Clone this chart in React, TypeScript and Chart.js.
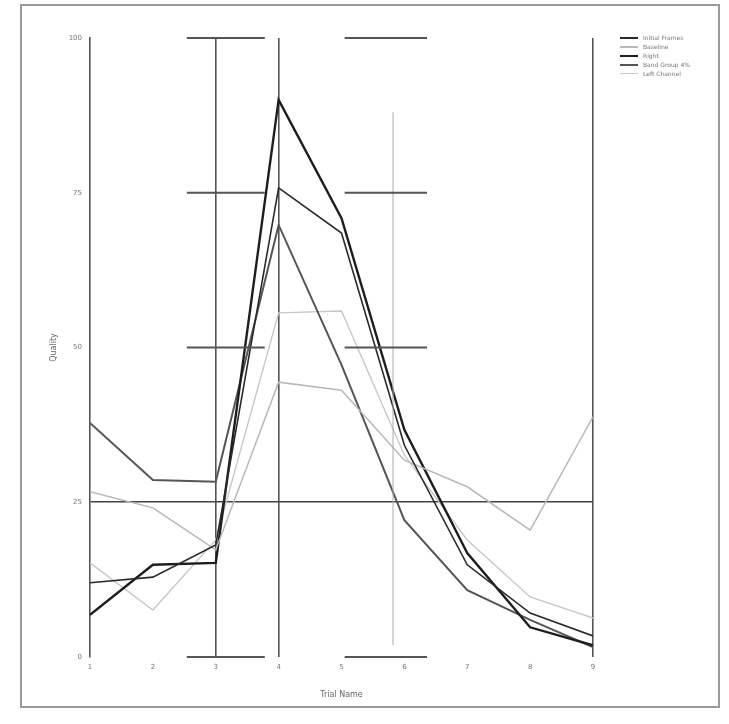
import React, { useEffect, useRef } from "react";
import { Chart, registerables } from "chart.js";
Chart.register(...registerables);

// ---- data ----
const categories = [1, 2, 3, 4, 5, 6, 7, 8, 9];
const xTickLabels = ["1", "2", "3", "4", "5", "6", "7", "8", "9"];
const yTickValues = [0, 25, 50, 75, 100];
const yTickLabels = ["0", "25", "50", "75", "100"];
const seriesNames = ["Initial Frames", "Baseline", "Right", "Band Group 4%", "Left Channel"];

const initialFrames = [12.0, 12.9, 18.1, 75.8, 68.5, 34.2, 14.9, 7.1, 3.4];
const baseline = [26.7, 24.1, 17.3, 44.4, 43.1, 31.8, 27.5, 20.5, 38.8];
const right = [6.8, 14.9, 15.2, 90.0, 70.9, 36.7, 16.8, 4.8, 1.9];
const bandGroup = [37.8, 28.6, 28.3, 69.8, 47.2, 22.1, 10.8, 6.0, 1.6];
const leftChannel = [15.2, 7.6, 18.9, 55.6, 55.9, 32.6, 18.9, 9.7, 6.3];

// reference marks in data units
const markLevels = [0, 50, 75, 100];
const markRanges = [
  [2.54, 3.78],
  [5.05, 6.36],
];
const refLineX = 5.82;
const refLineY = [1.9, 88];
const gridX = [3, 4, 9];
const gridY = [25];

const seriesValues = [initialFrames, baseline, right, bandGroup, leftChannel];
const seriesColors = ["#2a2a2a", "#b8b8b8", "#1e1e1e", "#555555", "#c8c8c8"];
const seriesWidths = [1.6, 1.5, 2.4, 2, 1.4];

export default function App() {
  const ref = useRef<HTMLCanvasElement>(null);
  useEffect(() => {
    document.body.style.margin = "0";
    const datasets: any[] = [];
    markLevels.forEach((lv) => {
      markRanges.forEach((rg) => {
        datasets.push({
          label: "",
          data: rg.map((x) => ({ x, y: lv })),
          borderColor: "#555",
          borderWidth: 2,
          pointRadius: 0,
          clip: false,
        });
      });
    });
    datasets.push({
      label: "",
      data: refLineY.map((y) => ({ x: refLineX, y })),
      borderColor: "#aaa",
      borderWidth: 1,
      pointRadius: 0,
    });
    seriesValues.forEach((vals, i) => {
      datasets.push({
        label: seriesNames[i],
        data: vals.map((v, j) => ({ x: categories[j], y: v })),
        borderColor: seriesColors[i],
        borderWidth: seriesWidths[i],
        pointRadius: 0,
        tension: 0,
      });
    });
    const chart = new Chart(ref.current!, {
      type: "line",
      data: { datasets },
      options: {
        animation: false,
        responsive: false,
        layout: { padding: { left: 45, right: 136, top: 38, bottom: 24 } },
        plugins: { legend: { display: false }, tooltip: { enabled: false } },
        scales: {
          x: {
            type: "linear",
            min: 1,
            max: 9,
            afterFit: (s: any) => {
              s.height = 43;
            },
            afterBuildTicks: (s: any) => {
              s.ticks = categories.map((v) => ({ value: v }));
            },
            ticks: {
              callback: (_v: any, i: number) => xTickLabels[i],
              color: "#777",
              font: { size: 7, family: "DejaVu Sans" },
              padding: 6,
              maxRotation: 0,
            },
            grid: {
              drawTicks: false,
              color: (c: any) => (gridX.includes(c.tick?.value) ? "#555" : "rgba(0,0,0,0)"),
              lineWidth: 1.6,
            },
            border: { display: false },
            title: {
              display: true,
              text: "Trial Name",
              color: "#666",
              font: { size: 8, family: "DejaVu Sans" },
              padding: { top: 4, bottom: 0 },
            },
          },
          y: {
            min: 0,
            max: 100,
            afterFit: (s: any) => {
              s.width = 45;
            },
            afterBuildTicks: (s: any) => {
              s.ticks = yTickValues.map((v) => ({ value: v }));
            },
            ticks: {
              callback: (_v: any, i: number) => yTickLabels[i],
              color: "#777",
              font: { size: 7, family: "DejaVu Sans" },
              padding: 8,
            },
            grid: {
              drawTicks: false,
              color: (c: any) => (gridY.includes(c.tick?.value) ? "#444" : "rgba(0,0,0,0)"),
              lineWidth: 1.6,
            },
            border: { display: true, color: "#555", width: 1.6 },
            title: {
              display: true,
              text: "Quality",
              color: "#666",
              font: { size: 8, family: "DejaVu Sans" },
              padding: 4,
            },
          },
        },
      },
    });
    return () => chart.destroy();
  }, []);

  return (
    <div style={{ position: "relative", width: 729, height: 724, background: "#fff" }}>
      <canvas ref={ref} width={729} height={724} style={{ position: "absolute", left: 0, top: 0 }} />
      <div
        style={{
          position: "absolute",
          left: 20,
          top: 4,
          width: 696,
          height: 700,
          border: "2px solid #9a9a9a",
          pointerEvents: "none",
        }}
      />
      <div style={{ position: "absolute", left: 620, top: 33, fontFamily: "DejaVu Sans", fontSize: 6, color: "#777" }}>
        {seriesNames.map((n, i) => (
          <div key={n} style={{ display: "flex", alignItems: "center", height: 9 }}>
            <span
              style={{
                display: "inline-block",
                width: 18,
                height: 0,
                borderTop: `${Math.max(1, Math.round(seriesWidths[i]))}px solid ${seriesColors[i]}`,
                marginRight: 5,
              }}
            />
            <span>{n}</span>
          </div>
        ))}
      </div>
    </div>
  );
}
